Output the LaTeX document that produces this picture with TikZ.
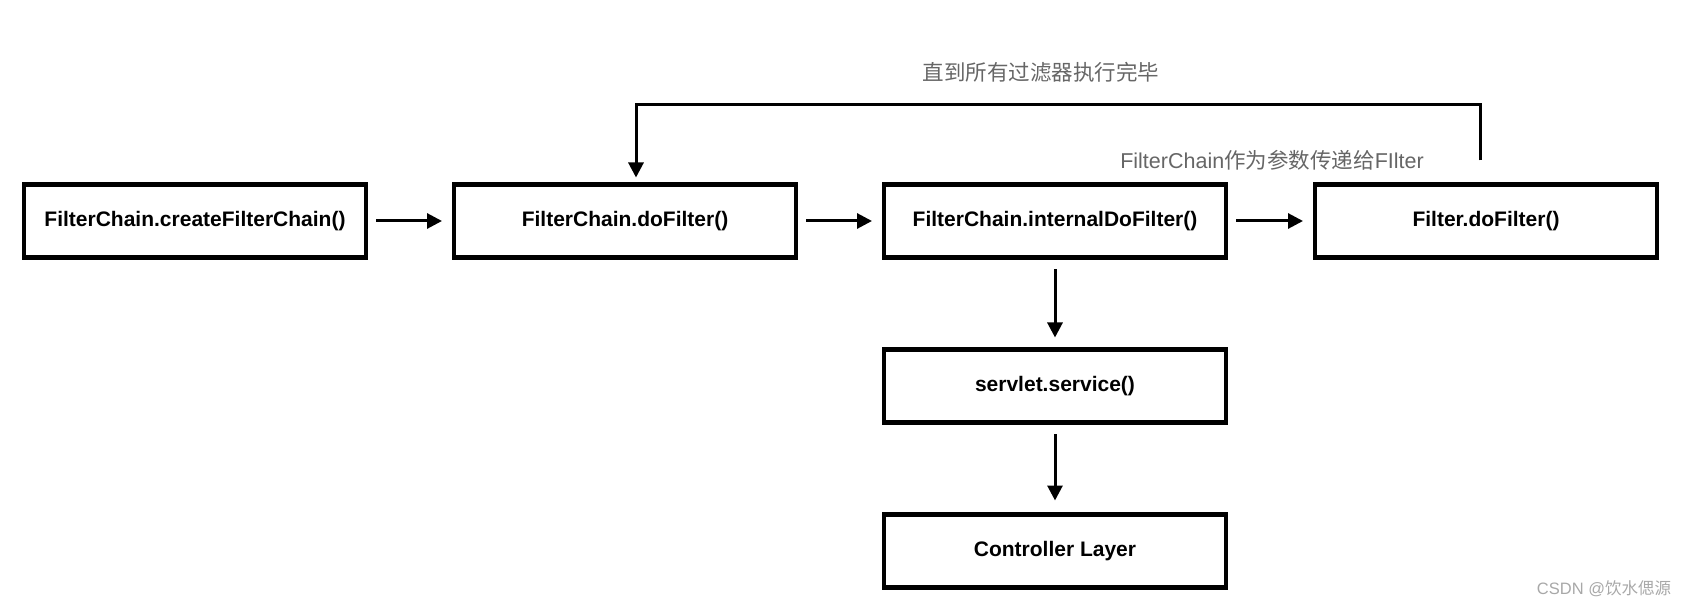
\documentclass[tikz,border=0pt]{standalone}
\usepackage{fontspec}
\setmainfont{Liberation Sans}
\newfontfamily\cjk{Noto Sans CJK SC}
\usetikzlibrary{arrows.meta}

\definecolor{notegray}{HTML}{666666}
\definecolor{markgray}{HTML}{A8A8A8}
\tikzset{
    box/.style = {draw, line width = 4.2pt, outer sep = 0pt,
        minimum width = 342pt, minimum height = 73pt,
        font = \bfseries\fontsize{21}{25}\selectfont},
    flow/.style = {line width = 3pt, -{Triangle[length=15pt,width=15pt]}},
    note/.style = {text = notegray, inner sep = 0pt, font = \fontsize{21.5}{26}\selectfont}
}

\begin{document}
\begin{tikzpicture}[x = 1pt, y = 1pt]
    \useasboundingbox (0,0) rectangle (1686,608);
    % first row
    \node[box] (create) at (195,387) {FilterChain.createFilterChain()};
    \node[box] (dofilter) at (625,387) {FilterChain.doFilter()};
    \node[box] (internal) at (1055,387) {FilterChain.internalDoFilter()};
    \node[box] (filter) at (1486,387) {Filter.doFilter()};
    % column below internalDoFilter
    \node[box] (servlet) at (1055,222) {servlet.service()};
    \node[box] (controller) at (1055,57) {Controller Layer};

    \draw[flow, shorten < = 10pt, shorten > = 12pt] (create) -- (dofilter);
    \draw[flow, shorten < = 10pt, shorten > = 12pt] (dofilter) -- (internal);
    \draw[flow, shorten < = 10pt, shorten > = 12pt] (internal) -- (filter);
    \draw[flow, shorten < = 12pt, shorten > = 12pt] (internal) -- (servlet);
    \draw[flow, shorten < = 12pt, shorten > = 14pt] (servlet) -- (controller);

    % back to doFilter
    \coordinate (loopstart) at ([xshift = -6pt, yshift = 24pt]filter.north);
    \coordinate (looptop) at ([yshift = 80pt]filter.north);
    \draw[flow, line cap = butt] (loopstart) -- (looptop -| loopstart)
        -| ([xshift = 11pt, yshift = 7pt]dofilter.north);

    \node[note] (repeat) at (1041,536) {\cjk 直到所有过滤器执行完毕};
    \node[note] (pass) at (1272,448) {FilterChain{\cjk 作为参数传递给}FIlter};
    \node[text = markgray, inner sep = 0pt, font = \fontsize{16.5}{20}\selectfont] (mark) at (1604,19) {CSDN @{\cjk 饮水偲源}};
\end{tikzpicture}
\end{document}
